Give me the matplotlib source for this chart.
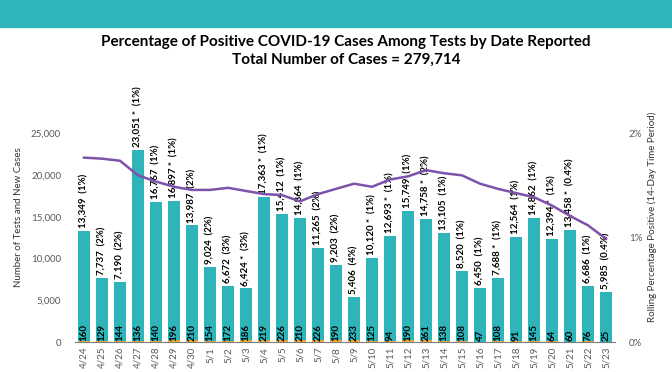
import matplotlib.pyplot as plt
from matplotlib.patches import Rectangle
import numpy as np

# dates reported
dates = ['4/24', '4/25', '4/26', '4/27', '4/28', '4/29', '4/30', '5/1', '5/2', '5/3',
         '5/4', '5/5', '5/6', '5/7', '5/8', '5/9', '5/10', '5/11', '5/12', '5/13',
         '5/14', '5/15', '5/16', '5/17', '5/18', '5/19', '5/20', '5/21', '5/22', '5/23']

# number of tests per day
tests = [13349, 7737, 7190, 23051, 16767, 16897, 13987, 9024, 6672, 6424,
         17363, 15412, 14864, 11265, 9203, 5406, 10120, 12693, 15749, 14758,
         13105, 8520, 6450, 7688, 12564, 14862, 12394, 13458, 6686, 5985]

# new positive cases per day
cases = [160, 129, 144, 136, 140, 196, 210, 154, 172, 186,
         219, 226, 210, 226, 190, 233, 125, 94, 190, 261,
         138, 108, 47, 108, 91, 145, 64, 60, 76, 25]

# daily percent positive (as printed)
daily_pct = ['1%', '2%', '2%', '1%', '1%', '1%', '2%', '2%', '3%', '3%',
             '1%', '1%', '1%', '2%', '2%', '4%', '1%', '1%', '1%', '2%',
             '1%', '1%', '1%', '1%', '1%', '1%', '1%', '0.4%', '1%', '0.4%']

# asterisk flags
starred = [0, 0, 0, 1, 0, 1, 0, 0, 0, 1,
           1, 0, 0, 0, 0, 0, 1, 1, 0, 1,
           0, 0, 0, 1, 0, 0, 1, 1, 0, 0]

# rolling 14-day percent positive
rolling = [1.77, 1.76, 1.74, 1.60, 1.54, 1.49, 1.46, 1.46, 1.48, 1.45,
           1.42, 1.41, 1.35, 1.42, 1.47, 1.52, 1.49, 1.56, 1.59, 1.65,
           1.62, 1.60, 1.52, 1.47, 1.43, 1.39, 1.31, 1.21, 1.12, 0.99]

teal = '#2fb4ba'
purple = '#7d52aa'
gray = '#595959'

plt.rcParams['font.family'] = ['Lato', 'DejaVu Sans']

fig = plt.figure(figsize=(6.72, 3.72), dpi=100)

# banner across the top
fig.patches.append(Rectangle((0, 1 - 27 / 372), 1, 27 / 372, transform=fig.transFigure,
                             color=teal, zorder=0))

fig.text(0.515, 1 - 42 / 372, 'Percentage of Positive COVID-19 Cases Among Tests by Date Reported',
         ha='center', va='center', fontsize=11, fontweight='bold')
fig.text(0.515, 1 - 60 / 372, 'Total Number of Cases = 279,714',
         ha='center', va='center', fontsize=11, fontweight='bold')

ax = fig.add_axes([75 / 672, 1 - 342 / 372, 540 / 672, 250 / 372])
x = np.arange(len(dates))

ax.bar(x, tests, width=0.65, color=teal, zorder=2)
ax.bar(x, cases, width=0.65, color='#e8a33a', zorder=3)

for i in range(len(dates)):
    lbl = f"{tests[i]:,}" + (' *' if starred[i] else '') + f"  ({daily_pct[i]})"
    ax.text(x[i], tests[i] + 350, lbl, rotation=90, ha='center', va='bottom',
            fontsize=7, fontweight='bold', zorder=5)
    ax.text(x[i], 150, str(cases[i]), rotation=90, ha='center', va='bottom',
            fontsize=7, fontweight='bold', zorder=5)

ax.set_xlim(-0.5, len(dates) - 0.5)
ax.set_ylim(0, 30000)
ax.set_yticks([0, 5000, 10000, 15000, 20000, 25000])
ax.set_yticklabels(['0', '5,000', '10,000', '15,000', '20,000', '25,000'])
ax.set_xticks(x)
ax.set_xticklabels(dates, rotation=90)
ax.tick_params(axis='both', length=0, labelsize=7, colors=gray)
ax.tick_params(axis='y', pad=10)
ax.set_ylabel('Number of Tests and New Cases', fontsize=7, color='#333333', labelpad=6)
for s in ['top', 'right', 'left']:
    ax.spines[s].set_visible(False)
ax.spines['bottom'].set_color('#7f7f7f')

ax2 = ax.twinx()
ax2.plot(x, rolling, color=purple, linewidth=1.8, zorder=4)
ax2.set_ylim(0, 2.4)
ax2.set_yticks([0, 1, 2])
ax2.set_yticklabels(['0%', '1%', '2%'])
ax2.tick_params(axis='y', length=0, labelsize=7, colors=gray, pad=10)
ax2.set_ylabel('Rolling Percentage Positive (14-Day Time Period)', fontsize=7,
               color='#333333', labelpad=4)
for s in ['top', 'right', 'left', 'bottom']:
    ax2.spines[s].set_visible(False)

fig.savefig('out.png', dpi=100)
